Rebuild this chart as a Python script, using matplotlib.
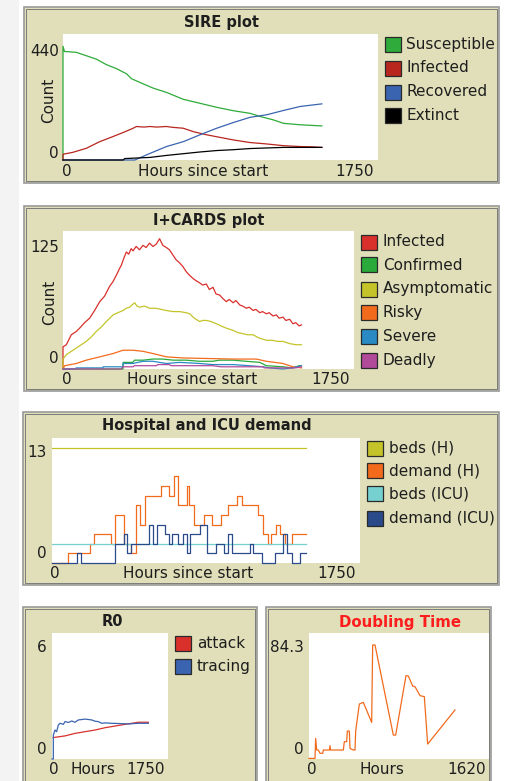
import matplotlib

matplotlib.use("Agg")

import matplotlib.pyplot as plt
from matplotlib.patches import Rectangle

W, H = 505, 781

# ---- SIRE plot (hours, count)
SIRE_SUSCEPTIBLE = [(0, 0), (0, 397), (8, 379), (74, 376), (130, 364), (186, 352), (241, 333),
                    (297, 319), (353, 301), (380, 284), (445, 266), (501, 251), (575, 236),
                    (668, 212), (761, 198), (854, 184), (947, 172), (1039, 163), (1095, 152),
                    (1169, 140), (1225, 128), (1318, 123), (1438, 119)]
SIRE_INFECTED = [(0, 0), (0, 20), (56, 27), (130, 41), (204, 64), (278, 82), (334, 96), (390, 111),
                 (408, 117), (450, 115), (483, 117), (520, 115), (575, 117), (610, 114), (668, 111),
                 (724, 99), (798, 88), (872, 79), (947, 70), (1039, 61), (1132, 56), (1225, 50),
                 (1318, 47), (1383, 46), (1438, 44)]
SIRE_RECOVERED = [(0, 0), (399, 0), (483, 23), (575, 47), (668, 64), (761, 88), (854, 111),
                  (947, 131), (1039, 149), (1132, 158), (1225, 173), (1318, 187), (1438, 196)]
SIRE_EXTINCT = [(0, 0), (334, 0), (343, 5), (483, 9), (575, 16), (668, 22), (761, 28), (854, 33),
                (947, 36), (1039, 40), (1225, 44), (1438, 44)]

# ---- I+CARDS plot
CARDS_INFECTED = [(0, 0), (0, 20), (20, 22), (50, 31), (80, 34), (100, 37), (130, 42), (160, 46),
                  (190, 53), (221, 61), (250, 66), (281, 75), (300, 79), (321, 85), (340, 91),
                  (351, 94), (365, 100), (381, 106), (395, 104), (410, 109), (421, 107), (440, 111),
                  (460, 108), (481, 112), (500, 110), (520, 114), (541, 111), (560, 113), (581, 118),
                  (600, 112), (622, 110), (640, 108), (662, 103), (680, 99), (702, 96), (720, 93),
                  (742, 88), (760, 85), (782, 82), (800, 80), (822, 78), (840, 76), (862, 77),
                  (880, 72), (902, 74), (920, 68), (942, 67), (960, 64), (982, 61), (1000, 63),
                  (1023, 60), (1040, 62), (1063, 58), (1080, 57), (1103, 55), (1120, 56), (1143, 53),
                  (1160, 54), (1183, 51), (1200, 52), (1223, 50), (1240, 51), (1263, 48), (1283, 49),
                  (1300, 46), (1323, 47), (1340, 44), (1363, 45), (1383, 41), (1400, 42), (1420, 39),
                  (1434, 40)]
CARDS_CONFIRMED = [(0, 0), (361, 0), (362, 6), (420, 6), (430, 8), (481, 8), (541, 9), (600, 9),
                   (662, 8), (740, 8), (822, 7), (900, 7), (940, 8), (1023, 8), (1100, 7), (1183, 6),
                   (1223, 3), (1323, 2), (1383, 1), (1420, 3), (1434, 3)]
CARDS_ASYMPTOMATIC = [(0, 0), (0, 9), (20, 13), (50, 16), (80, 19), (110, 22), (140, 25), (170, 29),
                      (200, 34), (230, 38), (261, 43), (281, 46), (301, 49), (330, 51), (361, 53),
                      (380, 55), (401, 56), (415, 58), (431, 60), (445, 57), (461, 56), (490, 57),
                      (521, 55), (560, 55), (590, 54), (622, 53), (660, 52), (702, 52), (740, 51),
                      (762, 50), (782, 47), (800, 45), (822, 43), (840, 44), (862, 44), (890, 43),
                      (922, 41), (950, 39), (982, 37), (1023, 35), (1050, 33), (1083, 32), (1110, 31),
                      (1143, 31), (1180, 28), (1223, 26), (1260, 26), (1290, 25), (1323, 25),
                      (1363, 23), (1400, 22), (1434, 22)]
CARDS_RISKY = [(0, 0), (10, 3), (80, 5), (140, 8), (221, 11), (301, 14), (361, 17), (421, 17),
               (481, 16), (541, 14), (622, 11), (722, 10), (1023, 9), (1163, 9), (1223, 7),
               (1323, 5), (1383, 2), (1434, 1)]
CARDS_SEVERE = [(0, 0), (70, 0), (80, 1), (240, 1), (241, 2), (360, 2), (361, 5), (420, 5),
                (481, 7), (540, 7), (622, 5), (700, 6), (822, 5), (900, 4), (1023, 4), (1120, 3),
                (1203, 2), (1243, 1), (1320, 0), (1380, 1), (1434, 3)]
CARDS_DEADLY = [(0, 0), (350, 0), (361, 2), (421, 2), (430, 3), (561, 3), (570, 4), (640, 4),
                (650, 3), (900, 3), (950, 2), (1203, 2), (1210, 1), (1400, 1), (1434, 2)]

# ---- Hospital and ICU demand (step changes)
HOSP_END = 1441
BEDS_H = 12
BEDS_ICU = 2
DEMAND_H = [(0, 0), (89, 1), (216, 2), (240, 3), (335, 2), (358, 5), (409, 2), (449, 1), (477, 6),
            (500, 4), (528, 7), (619, 8), (666, 7), (693, 9), (718, 6), (765, 8), (780, 6), (808, 4),
            (863, 5), (911, 4), (960, 5), (1002, 6), (1049, 7), (1078, 6), (1172, 5), (1197, 3),
            (1225, 2), (1244, 3), (1271, 4), (1295, 3), (1323, 2), (1362, 3), (1441, 3)]
DEMAND_ICU = [(0, 0), (140, 1), (165, 0), (358, 2), (409, 3), (428, 1), (449, 2), (553, 4),
              (575, 2), (598, 4), (642, 3), (665, 2), (682, 3), (716, 2), (744, 3), (767, 1),
              (784, 3), (841, 4), (882, 1), (932, 2), (977, 1), (998, 3), (1024, 1), (1125, 2),
              (1143, 1), (1191, 0), (1267, 1), (1314, 3), (1337, 1), (1361, 0), (1409, 1), (1441, 1)]

# ---- R0
R0_ATTACK = [(20, 1.02), (196, 1.10), (347, 1.22), (498, 1.30), (649, 1.38), (800, 1.49),
             (951, 1.57), (1102, 1.65), (1303, 1.75), (1454, 1.75)]
R0_TRACING = [(0, 0), (20, 0), (20, 1.14), (45, 1.38), (70, 1.30), (96, 1.62), (121, 1.70),
              (171, 1.65), (196, 1.78), (250, 1.74), (297, 1.81), (347, 1.75), (397, 1.86),
              (450, 1.88), (498, 1.90), (550, 1.88), (599, 1.86), (650, 1.80), (699, 1.78),
              (750, 1.70), (800, 1.72), (900, 1.70), (1000, 1.69), (1152, 1.67), (1300, 1.70),
              (1454, 1.70)]

# ---- Doubling time
DOUBLING = [(0, 0.4), (54, 0.4), (60, 13.8), (69, 6), (84, 6), (99, 3.8), (123, 3.8), (129, 6),
            (183, 6), (189, 8.9), (195, 6), (309, 6), (318, 11.6), (339, 11.6), (345, 18.7),
            (363, 18.7), (369, 7.1), (399, 6), (414, 6), (420, 18.7), (453, 36.8), (489, 37.9),
            (564, 24.5), (573, 76.3), (594, 76.3), (759, 16), (780, 16), (873, 55.8), (894, 55.5),
            (933, 48.8), (954, 48.4), (999, 42.4), (1038, 41.7), (1068, 10), (1314, 32.8)]

PANEL_BG = "#e0dfb9"
TXT = "#1e1e1e"
FONT = "DejaVu Sans"
LW = 0.9

fig = plt.figure(figsize=(W / 100, H / 100), dpi=100)
fig.patch.set_facecolor("white")


def fbox(x0, y0, x1, y1):
    return [x0 / W, 1 - y1 / H, (x1 - x0) / W, (y1 - y0) / H]


def text(x, y, s, size=11, **kw):
    kw.setdefault("color", TXT)
    fig.text(x / W, 1 - y / H, s, fontsize=size, family=FONT, **kw)


def frame(x0, y0, x1, y1):
    fig.add_artist(Rectangle((x0 / W, 1 - y1 / H), (x1 - x0) / W, (y1 - y0) / H,
                             transform=fig.transFigure, facecolor=PANEL_BG,
                             edgecolor="#9a9a9a", lw=1.2, zorder=0))
    fig.add_artist(Rectangle(((x0 + 2) / W, 1 - (y1 - 2) / H), (x1 - x0 - 4) / W,
                             (y1 - y0 - 4) / H, transform=fig.transFigure, facecolor="none",
                             edgecolor="#7a7a7a", lw=0.7, zorder=0))


def plot_area(x0, y0, x1, y1, xmax, ymax):
    ax = fig.add_axes(fbox(x0, y0, x1, y1))
    ax.set_facecolor("white")
    ax.set_xlim(0, xmax)
    ax.set_ylim(0, ymax)
    ax.set_xticks([])
    ax.set_yticks([])
    for s in ax.spines.values():
        s.set_visible(False)
    return ax


def legend(x, rows, items, text_x):
    for yc, (name, color) in zip(rows, items):
        fig.add_artist(Rectangle((x / W, 1 - (yc + 7.5) / H), 16 / W, 15 / H,
                                 transform=fig.transFigure, facecolor=color,
                                 edgecolor="#2a2a2a", lw=0.9))
        text(text_x, yc, name, size=11, va="center")


def line(ax, pts, color, **kw):
    xs, ys = zip(*pts)
    ax.plot(xs, ys, color=color, lw=LW, clip_on=False, **kw)


# light gray strip on the left edge
fig.add_artist(Rectangle((0, 0), 19 / W, 1, transform=fig.transFigure,
                         facecolor="#f3f3f3", edgecolor="none", zorder=0))

# ================= SIRE plot
frame(24, 7, 499, 183)
ax = plot_area(63, 34, 378, 160, 1750, 440)
line(ax, SIRE_SUSCEPTIBLE, "#2eab3a")
line(ax, SIRE_INFECTED, "#b8261e")
line(ax, SIRE_RECOVERED, "#3a64b0")
line(ax, SIRE_EXTINCT, "#000000")
text(221, 23, "SIRE plot", size=10.5, weight="bold", ha="center", va="center")
text(59, 51, "440", ha="right", va="center")
text(59, 153, "0", ha="right", va="center")
text(49, 100, "Count", rotation=90, ha="center", va="center")
text(67, 172, "0", ha="center", va="center")
text(203, 172, "Hours since start", size=11, ha="center", va="center")
text(355, 172, "1750", ha="center", va="center")
legend(385, [44, 68, 92, 115],
       [("Susceptible", "#2eab3a"), ("Infected", "#b8261e"),
        ("Recovered", "#3a64b0"), ("Extinct", "#000000")], 406)

# ================= I+CARDS plot
frame(24, 206, 499, 391)
ax = plot_area(63, 231, 354, 369, 1750, 125)
line(ax, CARDS_INFECTED, "#d9302c")
line(ax, CARDS_CONFIRMED, "#2aaa3a")
line(ax, CARDS_ASYMPTOMATIC, "#c4c42a")
line(ax, CARDS_RISKY, "#f26b1d")
line(ax, CARDS_SEVERE, "#2a8ac4")
line(ax, CARDS_DEADLY, "#b24a9a")
text(209, 220, "I+CARDS plot", size=10.5, weight="bold", ha="center", va="center")
text(59, 247, "125", ha="right", va="center")
text(59, 359, "0", ha="right", va="center")
text(50, 302, "Count", rotation=90, ha="center", va="center")
text(67, 379, "0", ha="center", va="center")
text(192, 379, "Hours since start", size=11, ha="center", va="center")
text(331, 379, "1750", ha="center", va="center")
legend(361, [242, 265, 289, 312, 336, 360],
       [("Infected", "#d9302c"), ("Confirmed", "#2aaa3a"), ("Asymptomatic", "#c4c42a"),
        ("Risky", "#f26b1d"), ("Severe", "#2a8ac4"), ("Deadly", "#b24a9a")], 383)

# ================= Hospital and ICU demand
frame(23, 412, 499, 585)
ax = plot_area(52, 438, 360, 563, 1750, 13)
ax.plot([0, HOSP_END], [BEDS_H, BEDS_H], color="#c4c42a", lw=LW)
hx, hy = zip(*DEMAND_H)
ax.plot(hx, hy, color="#f26b1d", lw=LW, drawstyle="steps-post", clip_on=False)
ax.plot([0, HOSP_END], [BEDS_ICU, BEDS_ICU], color="#76d0d0", lw=LW)
ix, iy = zip(*DEMAND_ICU)
ax.plot(ix, iy, color="#2a4a8a", lw=LW, drawstyle="steps-post", clip_on=False)
text(207, 425, "Hospital and ICU demand", size=10.5, weight="bold", ha="center", va="center")
text(47, 453, "13", ha="right", va="center")
text(47, 554, "0", ha="right", va="center")
text(55, 574, "0", ha="center", va="center")
text(188, 574, "Hours since start", size=11, ha="center", va="center")
text(337, 574, "1750", ha="center", va="center")
legend(367, [448, 471, 494, 518],
       [("beds (H)", "#c4c42a"), ("demand (H)", "#f26b1d"),
        ("beds (ICU)", "#76d0d0"), ("demand (ICU)", "#2a4a8a")], 389)

# ================= R0
frame(23, 607, 257, 795)
ax = plot_area(52, 633, 168, 759, 1750, 6)
line(ax, R0_ATTACK, "#d9302c")
line(ax, R0_TRACING, "#3a64b0")
text(112, 622, "R0", size=10.5, weight="bold", ha="center", va="center")
text(47, 648, "6", ha="right", va="center")
text(47, 750, "0", ha="right", va="center")
text(54, 769, "0", ha="center", va="center")
text(93, 769, "Hours", size=11, ha="center", va="center")
text(146, 769, "1750", ha="center", va="center")
legend(175, [643, 666], [("attack", "#d9302c"), ("tracing", "#3a64b0")], 197)

# ================= Doubling Time
frame(266, 607, 491, 795)
ax = plot_area(309, 633, 489, 759, 1620, 84.3)
line(ax, DOUBLING, "#f26b1d")
text(400, 622, "Doubling Time", size=10.8, weight="bold", ha="center", va="center",
     color="#ff1c1c")
text(304, 648, "84.3", ha="right", va="center")
text(304, 750, "0", ha="right", va="center")
text(312, 769, "0", ha="center", va="center")
text(382, 769, "Hours", size=11, ha="center", va="center")
text(467, 769, "1620", ha="center", va="center")

fig.savefig("out.png", dpi=100, facecolor=fig.get_facecolor())
